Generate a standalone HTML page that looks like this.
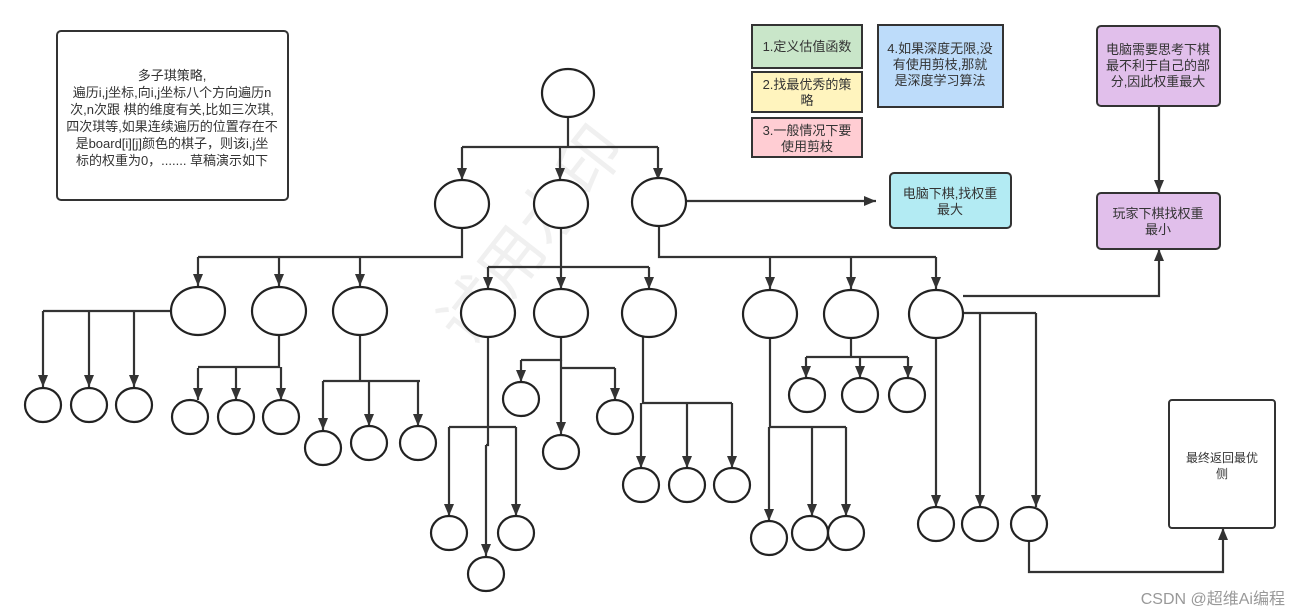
<!DOCTYPE html>
<html><head><meta charset="utf-8"><style>
html,body{margin:0;padding:0;background:#fff;}
svg{display:block;}
text{font-family:"Liberation Sans","Noto Sans CJK SC",sans-serif;font-size:13px;fill:#333;}
</style></head><body>
<svg width="1301" height="616" viewBox="0 0 1301 616" xmlns="http://www.w3.org/2000/svg">
<defs>
<marker id="a" viewBox="0 0 12 10" refX="12" refY="5" markerWidth="12" markerHeight="10" markerUnits="userSpaceOnUse" orient="auto">
<path d="M0,0 L12,5 L0,10 z" fill="#333"/></marker>
</defs>
<text x="0" y="0" transform="translate(470,350) rotate(-52)" style="font-size:64px;fill:#f0f0f0">试用水印</text>
<g fill="none" stroke="#333" stroke-width="2.2">
<path d="M568,117 V147 M462,147 H658"/>
<path d="M462,147 V180" marker-end="url(#a)"/>
<path d="M560,147 V180" marker-end="url(#a)"/>
<path d="M658,147 V180" marker-end="url(#a)"/>
<path d="M462,229 V257 H198"/>
<path d="M198,257 V286" marker-end="url(#a)"/>
<path d="M279,257 V286" marker-end="url(#a)"/>
<path d="M360,257 V286" marker-end="url(#a)"/>
<path d="M171,311 H43"/>
<path d="M43,311 V387" marker-end="url(#a)"/>
<path d="M89,311 V387" marker-end="url(#a)"/>
<path d="M134,311 V387" marker-end="url(#a)"/>
<path d="M279,335 V367 H198"/>
<path d="M198,368 V400" marker-end="url(#a)"/>
<path d="M236,368 V400" marker-end="url(#a)"/>
<path d="M281,367 V400" marker-end="url(#a)"/>
<path d="M360,335 V381 H323 M360,381 H420"/>
<path d="M323,381 V430" marker-end="url(#a)"/>
<path d="M369,381 V426" marker-end="url(#a)"/>
<path d="M418,381 V426" marker-end="url(#a)"/>
<path d="M561,227 V267 H488 M561,267 H649"/>
<path d="M488,267 V289" marker-end="url(#a)"/>
<path d="M561,267 V289" marker-end="url(#a)"/>
<path d="M649,267 V289" marker-end="url(#a)"/>
<path d="M488,337 V445 H486"/>
<path d="M486,445 V556" marker-end="url(#a)"/>
<path d="M449,427 H516"/>
<path d="M449,427 V516" marker-end="url(#a)"/>
<path d="M516,427 V516" marker-end="url(#a)"/>
<path d="M561,337 V360 H521 M561,368 H615"/>
<path d="M521,360 V382" marker-end="url(#a)"/>
<path d="M561,360 V434" marker-end="url(#a)"/>
<path d="M615,368 V400" marker-end="url(#a)"/>
<path d="M643,337 V403 H732"/>
<path d="M641,403 V468" marker-end="url(#a)"/>
<path d="M687,403 V468" marker-end="url(#a)"/>
<path d="M732,403 V468" marker-end="url(#a)"/>
<path d="M659,227 V257 H936"/>
<path d="M770,257 V289" marker-end="url(#a)"/>
<path d="M851,257 V289" marker-end="url(#a)"/>
<path d="M936,257 V289" marker-end="url(#a)"/>
<path d="M685,201 H876" marker-end="url(#a)"/>
<path d="M770,338 V427 H846"/>
<path d="M769,427 V521" marker-end="url(#a)"/>
<path d="M812,427 V516" marker-end="url(#a)"/>
<path d="M846,427 V516" marker-end="url(#a)"/>
<path d="M851,338 V357 H806 M851,357 H908"/>
<path d="M806,357 V378" marker-end="url(#a)"/>
<path d="M860,357 V378" marker-end="url(#a)"/>
<path d="M908,357 V378" marker-end="url(#a)"/>
<path d="M963,296 H1159 V249" marker-end="url(#a)"/>
<path d="M963,313 H1036"/>
<path d="M936,338 V507" marker-end="url(#a)"/>
<path d="M980,313 V507" marker-end="url(#a)"/>
<path d="M1036,313 V507" marker-end="url(#a)"/>
<path d="M1029,541 V572 H1223 V528" marker-end="url(#a)"/>
<path d="M1159,106 V192" marker-end="url(#a)"/>
</g>
<g fill="#fff" stroke="#222" stroke-width="2.2">
<ellipse cx="568" cy="93" rx="26" ry="24"/>
<ellipse cx="462" cy="204" rx="27" ry="24"/>
<ellipse cx="561" cy="204" rx="27" ry="24"/>
<ellipse cx="659" cy="202" rx="27" ry="24"/>
<ellipse cx="198" cy="311" rx="27" ry="24"/>
<ellipse cx="279" cy="311" rx="27" ry="24"/>
<ellipse cx="360" cy="311" rx="27" ry="24"/>
<ellipse cx="488" cy="313" rx="27" ry="24"/>
<ellipse cx="561" cy="313" rx="27" ry="24"/>
<ellipse cx="649" cy="313" rx="27" ry="24"/>
<ellipse cx="770" cy="314" rx="27" ry="24"/>
<ellipse cx="851" cy="314" rx="27" ry="24"/>
<ellipse cx="936" cy="314" rx="27" ry="24"/>
<ellipse cx="43" cy="405" rx="18" ry="17"/>
<ellipse cx="89" cy="405" rx="18" ry="17"/>
<ellipse cx="134" cy="405" rx="18" ry="17"/>
<ellipse cx="190" cy="417" rx="18" ry="17"/>
<ellipse cx="236" cy="417" rx="18" ry="17"/>
<ellipse cx="281" cy="417" rx="18" ry="17"/>
<ellipse cx="323" cy="448" rx="18" ry="17"/>
<ellipse cx="369" cy="443" rx="18" ry="17"/>
<ellipse cx="418" cy="443" rx="18" ry="17"/>
<ellipse cx="449" cy="533" rx="18" ry="17"/>
<ellipse cx="516" cy="533" rx="18" ry="17"/>
<ellipse cx="486" cy="574" rx="18" ry="17"/>
<ellipse cx="521" cy="399" rx="18" ry="17"/>
<ellipse cx="561" cy="452" rx="18" ry="17"/>
<ellipse cx="615" cy="417" rx="18" ry="17"/>
<ellipse cx="641" cy="485" rx="18" ry="17"/>
<ellipse cx="687" cy="485" rx="18" ry="17"/>
<ellipse cx="732" cy="485" rx="18" ry="17"/>
<ellipse cx="769" cy="538" rx="18" ry="17"/>
<ellipse cx="810" cy="533" rx="18" ry="17"/>
<ellipse cx="846" cy="533" rx="18" ry="17"/>
<ellipse cx="807" cy="395" rx="18" ry="17"/>
<ellipse cx="860" cy="395" rx="18" ry="17"/>
<ellipse cx="907" cy="395" rx="18" ry="17"/>
<ellipse cx="936" cy="524" rx="18" ry="17"/>
<ellipse cx="980" cy="524" rx="18" ry="17"/>
<ellipse cx="1029" cy="524" rx="18" ry="17"/>
</g>
<g stroke="#333" stroke-width="2">
<rect x="57" y="31" width="231" height="169" rx="4" fill="#fff"/>
<rect x="752" y="25" width="110" height="43" fill="#c9e6c9"/>
<rect x="752" y="72" width="110" height="40" fill="#fff4be"/>
<rect x="752" y="118" width="110" height="39" fill="#ffcdd3"/>
<rect x="878" y="25" width="125" height="82" fill="#bddcfa"/>
<rect x="1097" y="26" width="123" height="80" rx="4" fill="#e1bfeb"/>
<rect x="1097" y="193" width="123" height="56" rx="4" fill="#e1bfeb"/>
<rect x="890" y="173" width="121" height="55" rx="4" fill="#b3ebf3"/>
<rect x="1169" y="400" width="106" height="128" rx="3" fill="#fff"/>
</g>
<g text-anchor="middle">
<text x="172" y="80">多子琪策略,</text>
<text x="172" y="97">遍历i,j坐标,向i,j坐标八个方向遍历n</text>
<text x="172" y="114">次,n次跟 棋的维度有关,比如三次琪,</text>
<text x="172" y="131">四次琪等,如果连续遍历的位置存在不</text>
<text x="172" y="148">是board[i][j]颜色的棋子，则该i,j坐</text>
<text x="172" y="165">标的权重为0，....... 草稿演示如下</text>
<text x="807" y="51">1.定义估值函数</text>
<text x="807" y="89">2.找最优秀的策</text>
<text x="807" y="105">略</text>
<text x="807" y="135">3.一般情况下要</text>
<text x="807" y="151">使用剪枝</text>
<text x="940" y="53">4.如果深度无限,没</text>
<text x="940" y="69">有使用剪枝,那就</text>
<text x="940" y="85">是深度学习算法</text>
<text x="1158" y="54">电脑需要思考下棋</text>
<text x="1158" y="70">最不利于自己的部</text>
<text x="1158" y="86">分,因此权重最大</text>
<text x="1158" y="218">玩家下棋找权重</text>
<text x="1158" y="234">最小</text>
<text x="950" y="198">电脑下棋,找权重</text>
<text x="950" y="214">最大</text>
<text x="1222" y="462" style="font-size:12px">最终返回最优</text>
<text x="1222" y="478" style="font-size:12px">侧</text>
</g>
<text x="1285" y="604" text-anchor="end" style="font-size:16px;fill:#999">CSDN @超维Ai编程</text>
</svg>
</body></html>
